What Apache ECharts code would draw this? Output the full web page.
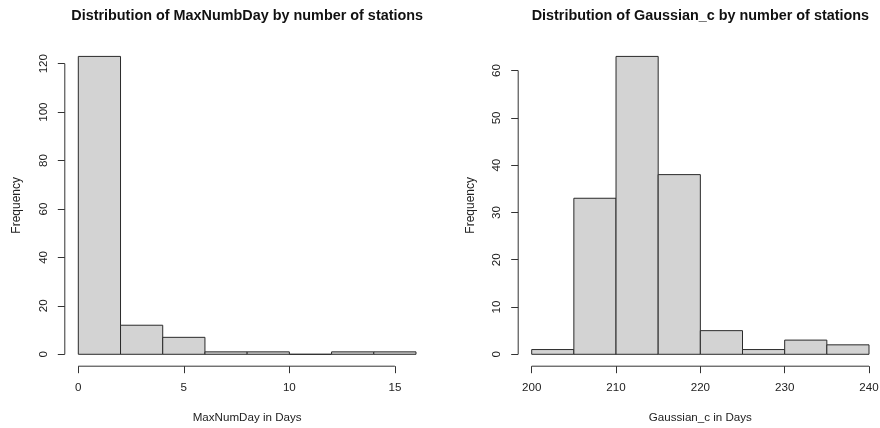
<!DOCTYPE html>
<html>
<head>
<meta charset="utf-8">
<script src="https://cdn.jsdelivr.net/npm/echarts@6/dist/echarts.min.js"></script>
<style>html,body{margin:0;padding:0;background:#fff;}#c{width:880px;height:428px;}</style>
</head>
<body>
<div id="c"></div>
<script>
// ---- data ----
const maxNumBreaks = [0, 2, 4, 6, 8, 10, 12, 14, 16];
const maxNumCounts = [123, 12, 7, 1, 1, 0, 1, 1];
const maxNumXTicks = [0, 5, 10, 15];
const maxNumYTicks = [0, 20, 40, 60, 80, 100, 120];

const gaussBreaks = [200, 205, 210, 215, 220, 225, 230, 235, 240];
const gaussCounts = [1, 33, 63, 38, 5, 1, 3, 2];
const gaussXTicks = [200, 210, 220, 230, 240];
const gaussYTicks = [0, 10, 20, 30, 40, 50, 60];

const titles = ['Distribution of MaxNumbDay by number of stations', 'Distribution of Gaussian_c by number of stations'];
const xNames = ['MaxNumDay in Days', 'Gaussian_c in Days'];
const yName = 'Frequency';

// ---- build ----
const FONT = '"Liberation Sans", Arial, Helvetica, sans-serif';
const TXT = '#222';
const AX = '#333';
const FS = 11.6;

function ranges(breaks, counts) {
  const x0 = breaks[0], x1 = breaks[breaks.length - 1];
  const dx = (x1 - x0) * 0.04;
  const ymax = Math.max.apply(null, counts);
  const dy = ymax * 0.04;
  return { xmin: x0 - dx, xmax: x1 + dx, ymin: -dy, ymax: ymax + dy };
}
const r0 = ranges(maxNumBreaks, maxNumCounts);
const r1 = ranges(gaussBreaks, gaussCounts);

function histData(breaks, counts) {
  return counts.map((c, i) => [breaks[i], breaks[i + 1], c]);
}

function xAxis(idx, r, ticks, name) {
  return {
    type: 'value', gridIndex: idx, min: r.xmin, max: r.xmax,
    splitLine: { show: false },
    axisLine: { show: false, onZero: false },
    axisTick: { show: true, length: 7, customValues: ticks, lineStyle: { color: AX, width: 1 } },
    axisLabel: { show: true, customValues: ticks, margin: 16, color: TXT, fontFamily: FONT, fontSize: FS, showMinLabel: true, showMaxLabel: true },
    name: name, nameLocation: 'middle', nameGap: 46,
    nameTextStyle: { color: TXT, fontFamily: FONT, fontSize: FS }
  };
}
function yAxis(idx, r, ticks) {
  return {
    type: 'value', gridIndex: idx, min: r.ymin, max: r.ymax,
    splitLine: { show: false },
    axisLine: { show: false, onZero: false },
    axisTick: { show: true, length: 7, customValues: ticks, lineStyle: { color: AX, width: 1 } },
    axisLabel: { show: true, customValues: ticks, rotate: 90, margin: 15, color: TXT, fontFamily: FONT, fontSize: FS, showMinLabel: true, showMaxLabel: true },
    name: yName, nameLocation: 'middle', nameGap: 42,
    nameTextStyle: { color: TXT, fontFamily: FONT, fontSize: 12 }
  };
}

function histSeries(idx, breaks, counts) {
  return {
    type: 'custom', xAxisIndex: idx, yAxisIndex: idx,
    data: histData(breaks, counts),
    clip: false,
    renderItem: function (params, api) {
      const p0 = api.coord([api.value(0), api.value(2)]);
      const p1 = api.coord([api.value(1), 0]);
      return {
        type: 'rect',
        shape: { x: p0[0], y: p0[1], width: p1[0] - p0[0], height: p1[1] - p0[1] },
        style: { fill: '#D3D3D3', stroke: '#2a2a2a', lineWidth: 1 }
      };
    },
    silent: true, animation: false
  };
}

function axisLineSeries(idx, data) {
  return {
    type: 'line', xAxisIndex: idx, yAxisIndex: idx, data: data,
    symbol: 'none', clip: false, silent: true, animation: false,
    lineStyle: { color: AX, width: 1 }
  };
}

const option = {
  animation: false,
  backgroundColor: '#fff',
  grid: [
    { left: 64.8, right: 880 - 429.5, top: 44.5, bottom: 428 - 366.2, containLabel: false, outerBoundsMode: 'none' },
    { left: 518.2, right: 880 - 882.5, top: 44.5, bottom: 428 - 366.2, containLabel: false, outerBoundsMode: 'none' }
  ],
  xAxis: [xAxis(0, r0, maxNumXTicks, xNames[0]), xAxis(1, r1, gaussXTicks, xNames[1])],
  yAxis: [yAxis(0, r0, maxNumYTicks), yAxis(1, r1, gaussYTicks)],
  series: [
    histSeries(0, maxNumBreaks, maxNumCounts),
    histSeries(1, gaussBreaks, gaussCounts),
    axisLineSeries(0, [[maxNumXTicks[0], r0.ymin], [maxNumXTicks[maxNumXTicks.length - 1], r0.ymin]]),
    axisLineSeries(0, [[r0.xmin, maxNumYTicks[0]], [r0.xmin, maxNumYTicks[maxNumYTicks.length - 1]]]),
    axisLineSeries(1, [[gaussXTicks[0], r1.ymin], [gaussXTicks[gaussXTicks.length - 1], r1.ymin]]),
    axisLineSeries(1, [[r1.xmin, gaussYTicks[0]], [r1.xmin, gaussYTicks[gaussYTicks.length - 1]]])
  ],
  graphic: [
    { type: 'text', x: (64.8 + 429.5) / 2, y: 16, style: { text: titles[0], textAlign: 'center', textVerticalAlign: 'middle', fill: '#111', font: 'bold 14.4px ' + FONT } },
    { type: 'text', x: (518.2 + 882.5) / 2, y: 16, style: { text: titles[1], textAlign: 'center', textVerticalAlign: 'middle', fill: '#111', font: 'bold 14.4px ' + FONT } }
  ]
};

const chart = echarts.init(document.getElementById('c'), null, { renderer: 'canvas' });
chart.setOption(option);
</script>
</body>
</html>
